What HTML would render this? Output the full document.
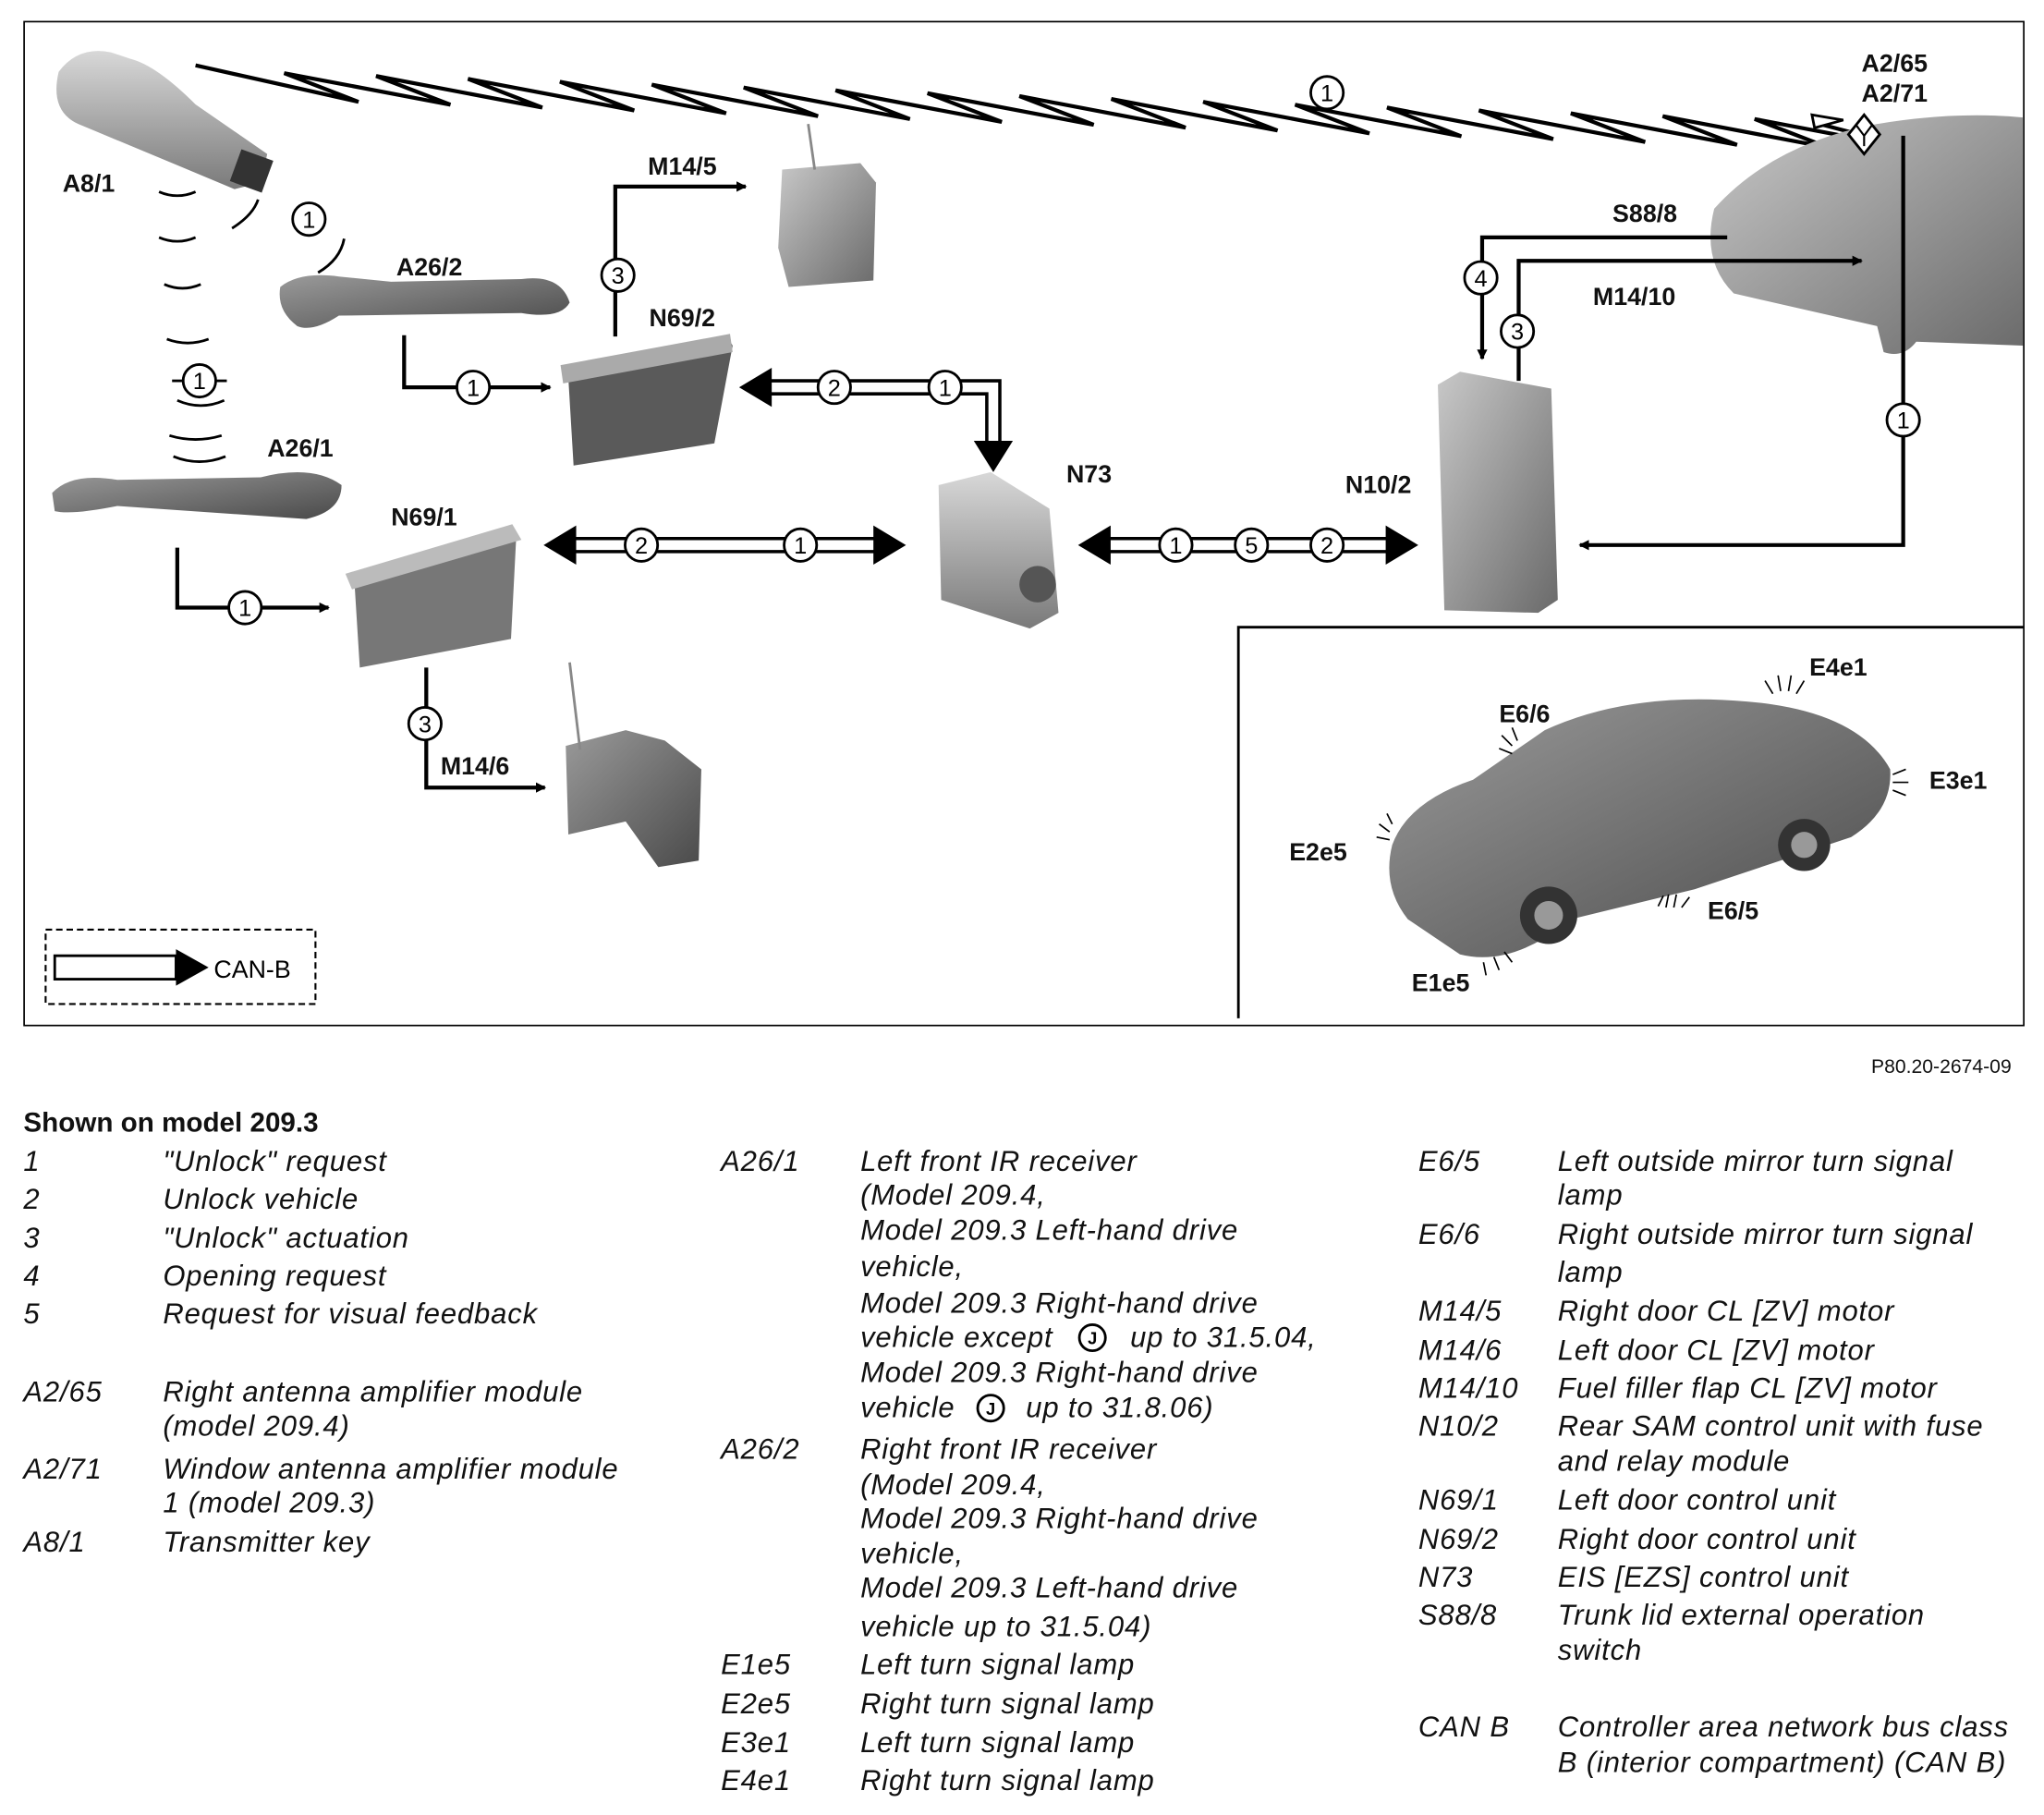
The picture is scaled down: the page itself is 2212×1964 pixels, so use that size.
<!DOCTYPE html>
<html><head><meta charset="utf-8"><style>
html,body{margin:0;padding:0;background:#fff}
svg{display:block}
.lb{font-family:"Liberation Sans",sans-serif;font-weight:bold;font-size:19px;fill:#111}
.lg{font-family:"Liberation Sans",sans-serif;font-style:italic;font-size:22px;letter-spacing:0.6px;fill:#111}
.cn{font-family:"Liberation Sans",sans-serif;font-size:18px;fill:#000;text-anchor:middle}
</style></head><body>
<svg id="s" width="2212" height="1964" viewBox="0 0 1568 1392" xmlns="http://www.w3.org/2000/svg">
<defs>
<linearGradient id="g1" x1="0" y1="0" x2="0" y2="1"><stop offset="0" stop-color="#d8d8d8"/><stop offset="1" stop-color="#7a7a7a"/></linearGradient>
<linearGradient id="g2" x1="0" y1="0" x2="1" y2="1"><stop offset="0" stop-color="#9a9a9a"/><stop offset="1" stop-color="#4a4a4a"/></linearGradient>
<linearGradient id="g3" x1="0" y1="0" x2="1" y2="1"><stop offset="0" stop-color="#c8c8c8"/><stop offset="1" stop-color="#6a6a6a"/></linearGradient>
<marker id="ah" markerWidth="8" markerHeight="8" refX="7" refY="4" orient="auto" markerUnits="userSpaceOnUse"><path d="M0,0 L8,4 L0,8z" fill="#000"/></marker>
</defs>
<rect x="18.5" y="16.5" width="1534" height="770" fill="none" stroke="#000" stroke-width="1.2"/>
<path d="M950,781 V481 H1552" fill="none" stroke="#000" stroke-width="2"/>

<polyline id="zz" fill="none" stroke="#000" stroke-width="3" stroke-linejoin="miter" points=""/>
<path d="M1390,88 L1414,92 L1392,98z" fill="#fff" stroke="#000" stroke-width="2"/>

<path d="M45,55 Q60,35 85,40 L100,45 Q120,50 150,80 L205,118 L200,140 L180,145 Q120,120 60,95 Q38,85 45,55z" fill="url(#g1)"/>
<rect x="180" y="118" width="26" height="26" fill="#333" transform="rotate(20 193 131)"/>
<g fill="none" stroke="#000" stroke-width="2">
<path d="M122,147 q14,6 28,0"/><path d="M122,182 q14,6 28,0"/><path d="M126,218 q14,6 28,0"/><path d="M128,260 q16,6 32,0"/><path d="M136,307 q18,8 36,0"/><path d="M130,334 q20,6 40,0"/><path d="M133,350 q20,8 40,0"/><path d="M178,175 q16,-10 20,-22" /><path d="M264,183 q-3,16 -20,26"/><path d="M132,292 h8"/><path d="M166,292 h8"/>
</g>
<path d="M215,220 Q230,208 260,212 L300,216 L400,214 Q430,210 437,232 Q430,245 400,240 L260,242 Q240,255 228,250 Q212,238 215,220z" fill="url(#g2)"/>
<path d="M40,378 Q55,362 90,368 L200,366 Q240,356 262,372 Q262,392 235,398 L90,388 Q55,395 42,392z" fill="url(#g2)"/>
<path d="M432,280 L558,258 L562,265 L548,340 L440,357 L436,290z" fill="#5a5a5a"/>
<path d="M430,280 L560,256 L562,270 L432,294z" fill="#aaa"/>
<path d="M600,130 L660,125 L672,140 L670,215 L605,220 L597,190z" fill="url(#g3)"/>
<line x1="620" y1="95" x2="625" y2="130" stroke="#888" stroke-width="2"/>
<path d="M720,372 L760,362 L805,390 L812,470 L790,482 L722,460z" fill="url(#g1)"/>
<circle cx="796" cy="448" r="14" fill="#555"/>
<path d="M268,440 L392,405 L396,412 L392,490 L276,512 L272,448z" fill="#777"/>
<path d="M265,440 L393,402 L400,414 L270,452z" fill="#bbb"/>
<path d="M434,572 L480,560 L510,568 L538,590 L536,660 L505,665 L480,630 L436,640z" fill="url(#g2)"/>
<line x1="437" y1="508" x2="445" y2="575" stroke="#888" stroke-width="2"/>
<path d="M1103,295 L1120,285 L1190,298 L1195,460 L1180,470 L1108,468z" fill="url(#g3)"/>
<path d="M1315,160 Q1360,110 1440,95 Q1500,85 1552,90 L1552,265 L1470,262 Q1460,275 1445,270 L1440,250 L1330,225 Q1305,200 1315,160z" fill="url(#g3)"/>
<path d="M1418,103 L1430,88 L1442,103 L1430,118z" fill="#fff" stroke="#000" stroke-width="2"/>
<path d="M1424,96 L1430,104 L1436,96 M1430,104 V112" stroke="#000" stroke-width="1.5" fill="none"/>
<path d="M1068,648 Q1080,615 1130,598 L1185,560 Q1250,530 1340,538 Q1425,545 1450,590 Q1452,622 1420,642 L1300,682 L1205,705 Q1160,742 1120,732 L1080,705 Q1060,680 1068,648z" fill="url(#g2)"/>
<circle cx="1188" cy="702" r="22" fill="#333"/><circle cx="1384" cy="648" r="20" fill="#333"/>
<circle cx="1188" cy="702" r="11" fill="#999"/><circle cx="1384" cy="648" r="10" fill="#999"/>

<g fill="none" stroke="#000" stroke-width="3">
<path d="M472,258 V143 H572" marker-end="url(#ah)"/>
<path d="M310,257 V297 H422" marker-end="url(#ah)"/>
<path d="M136,420 V466 H252" marker-end="url(#ah)"/>
<path d="M327,512 V604 H418" marker-end="url(#ah)"/>
<path d="M1325,182 H1137 V275" marker-end="url(#ah)"/>
<path d="M1165,292 V200 H1428" marker-end="url(#ah)"/>
<path d="M1460,104 V418 H1212" marker-end="url(#ah)"/>
</g>
<g fill="none" stroke="#000" stroke-width="2.5">
<path d="M590,292 H767 V340 M590,302 H757 V340"/>
<path d="M440,413 H672 M440,423 H672"/>
<path d="M850,413 H1066 M850,423 H1066"/>
<path d="M42,733 H135 V751 H42z" stroke-width="2"/>
</g>
<g fill="#000">
<path d="M567,297 L592,282 L592,312z"/>
<path d="M747,338 L777,338 L762,362z"/>
<path d="M417,418 L442,403 L442,433z"/><path d="M695,418 L670,403 L670,433z"/>
<path d="M827,418 L852,403 L852,433z"/><path d="M1088,418 L1063,403 L1063,433z"/>
<path d="M135,728 L160,742 L135,756z"/>
</g>
<rect x="35" y="713" width="207" height="57" fill="none" stroke="#000" stroke-width="1.5" stroke-dasharray="5,3"/>
<text x="164" y="750" class="cn" style="text-anchor:start;font-size:19px">CAN-B</text>

<g id="circ" fill="#fff" stroke="#000" stroke-width="2"></g>

<g class="lb">
<text x="48" y="147">A8/1</text>
<text x="304" y="211">A26/2</text>
<text x="205" y="350">A26/1</text>
<text x="497" y="134">M14/5</text>
<text x="498" y="250">N69/2</text>
<text x="818" y="370">N73</text>
<text x="300" y="403">N69/1</text>
<text x="338" y="594">M14/6</text>
<text x="1032" y="378">N10/2</text>
<text x="1237" y="170">S88/8</text>
<text x="1222" y="234">M14/10</text>
<text x="1428" y="55">A2/65</text>
<text x="1428" y="78">A2/71</text>
<text x="1388" y="518">E4e1</text>
<text x="1150" y="554">E6/6</text>
<text x="1480" y="605">E3e1</text>
<text x="989" y="660">E2e5</text>
<text x="1310" y="705">E6/5</text>
<text x="1083" y="760">E1e5</text>
</g>
<g stroke="#000" stroke-width="1.2">
<path d="M1360,532 l-6,-10 M1366,530 l-2,-12 M1372,530 l2,-12 M1378,532 l6,-10"/>
<path d="M1160,578 l-10,-4 M1160,572 l-8,-8 M1164,568 l-4,-10"/>
<path d="M1452,594 l10,-4 M1452,600 l12,0 M1452,606 l10,4"/>
<path d="M1066,644 l-10,-2 M1066,638 l-8,-6 M1068,632 l-4,-8"/>
<path d="M1272,695 l4,-8 M1278,696 l2,-10 M1284,696 l2,-10 M1290,696 l6,-8"/>
<path d="M1138,738 l2,10 M1146,734 l4,10 M1154,730 l6,8"/>
</g>

<text x="1543" y="823" class="lg" style="font-style:normal;font-size:15px;letter-spacing:0;text-anchor:end">P80.20-2674-09</text>
<text x="18" y="868" class="lg" style="font-style:normal;font-weight:bold;font-size:21px;letter-spacing:0">Shown on model 209.3</text>
<g class="lg" id="leg"></g>
</svg>
<script>
var NS="http://www.w3.org/2000/svg";
var pts=["150,50"];
for(var k=0;k<18;k++){var bx=275+70.5*k,by=78+2.2*k;
 pts.push(bx+","+by); if(k<17) pts.push((bx-57)+","+(by-22));}
pts.push("1392,94");
document.getElementById("zz").setAttribute("points",pts.join(" "));
var C=[[1018,71,1],[237,168,1],[153,292,1],[474,211,3],[363,297,1],[640,297,2],[725,297,1],[492,418,2],[614,418,1],[902,418,1],[960,418,5],[1018,418,2],[188,466,1],[326,555,3],[1136,213,4],[1164,254,3],[1460,322,1]];
var cg=document.getElementById("circ"),s=document.getElementById("s");
C.forEach(function(c){var e=document.createElementNS(NS,"circle");e.setAttribute("cx",c[0]);e.setAttribute("cy",c[1]);e.setAttribute("r",12.5);cg.appendChild(e);
var t=document.createElementNS(NS,"text");t.setAttribute("x",c[0]);t.setAttribute("y",c[1]+6.5);t.setAttribute("class","cn");t.textContent=c[2];s.appendChild(t);});
var L=[
[18,125,891,"1",'"Unlock" request'],[18,125,920,"2","Unlock vehicle"],[18,125,950,"3",'"Unlock" actuation'],[18,125,979,"4","Opening request"],[18,125,1008,"5","Request for visual feedback"],
[18,125,1068,"A2/65","Right antenna amplifier module"],[18,125,1094,"","(model 209.4)"],[18,125,1127,"A2/71","Window antenna amplifier module"],[18,125,1153,"","1 (model 209.3)"],[18,125,1183,"A8/1","Transmitter key"],
[553,660,891,"A26/1","Left front IR receiver"],[553,660,917,"","(Model 209.4,"],[553,660,944,"","Model 209.3 Left-hand drive"],[553,660,972,"","vehicle,"],[553,660,1000,"","Model 209.3 Right-hand drive"],[553,660,1026,"","vehicle except"],[553,867,1026,"","up to 31.5.04,"],[553,660,1053,"","Model 209.3 Right-hand drive"],[553,660,1080,"","vehicle"],[553,787,1080,"","up to 31.8.06)"],
[553,660,1112,"A26/2","Right front IR receiver"],[553,660,1139,"","(Model 209.4,"],[553,660,1165,"","Model 209.3 Right-hand drive"],[553,660,1192,"","vehicle,"],[553,660,1218,"","Model 209.3 Left-hand drive"],[553,660,1248,"","vehicle up to 31.5.04)"],
[553,660,1277,"E1e5","Left turn signal lamp"],[553,660,1307,"E2e5","Right turn signal lamp"],[553,660,1337,"E3e1","Left turn signal lamp"],[553,660,1366,"E4e1","Right turn signal lamp"],
[1088,1195,891,"E6/5","Left outside mirror turn signal"],[1088,1195,917,"","lamp"],[1088,1195,947,"E6/6","Right outside mirror turn signal"],[1088,1195,976,"","lamp"],[1088,1195,1006,"M14/5","Right door CL [ZV] motor"],[1088,1195,1036,"M14/6","Left door CL [ZV] motor"],[1088,1195,1065,"M14/10","Fuel filler flap CL [ZV] motor"],[1088,1195,1094,"N10/2","Rear SAM control unit with fuse"],[1088,1195,1121,"","and relay module"],[1088,1195,1151,"N69/1","Left door control unit"],[1088,1195,1181,"N69/2","Right door control unit"],[1088,1195,1210,"N73","EIS [EZS] control unit"],[1088,1195,1239,"S88/8","Trunk lid external operation"],[1088,1195,1266,"","switch"],[1088,1195,1325,"CAN B","Controller area network bus class"],[1088,1195,1352,"","B (interior compartment) (CAN B)"]];
var lg=document.getElementById("leg");
L.forEach(function(r){[[r[0],r[3]],[r[1],r[4]]].forEach(function(p){if(!p[1])return;var t=document.createElementNS(NS,"text");t.setAttribute("x",p[0]);t.setAttribute("y",r[2]+7);t.textContent=p[1];lg.appendChild(t);});});
[[838,1026],[760,1080]].forEach(function(c){var e=document.createElementNS(NS,"circle");e.setAttribute("cx",c[0]);e.setAttribute("cy",c[1]);e.setAttribute("r",10);e.setAttribute("fill","none");e.setAttribute("stroke","#000");e.setAttribute("stroke-width","2");s.appendChild(e);var t=document.createElementNS(NS,"text");t.setAttribute("x",c[0]);t.setAttribute("y",c[1]+5);t.setAttribute("class","cn");t.setAttribute("style","font-size:13px;font-weight:bold");t.textContent="J";s.appendChild(t);});
</script>
</body></html>
